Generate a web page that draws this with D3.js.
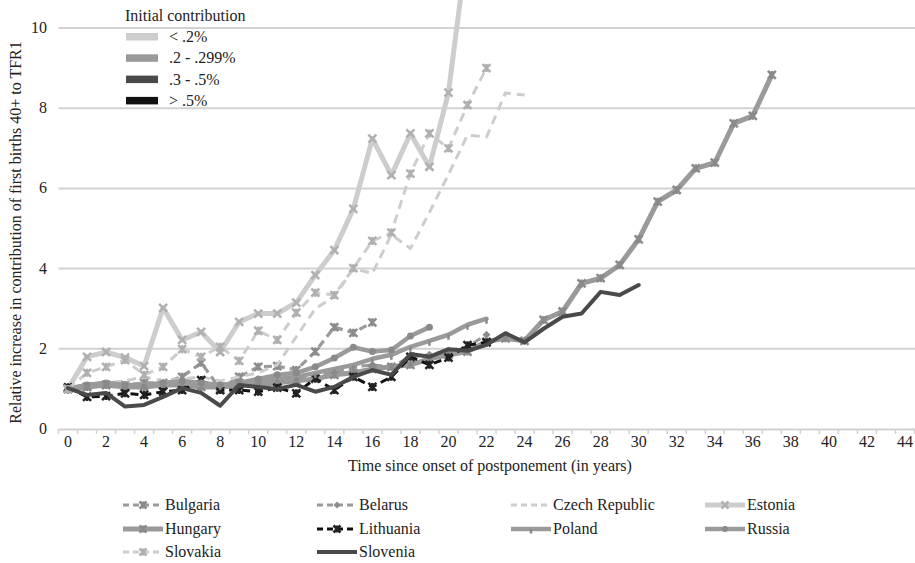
<!DOCTYPE html>
<html>
<head>
<meta charset="utf-8">
<script src="https://cdn.jsdelivr.net/npm/d3@7"></script>
<style>
  html, body { margin: 0; padding: 0; background: #fff; }
  svg text { font-family: "Liberation Serif", "DejaVu Serif", serif; }
</style>
</head>
<body>
<svg id="chart" width="915" height="563"></svg>
<script>
// Years since onset of postponement (category axis)
const years = d3.range(0, 45);
const yTicks = [0, 2, 4, 6, 8, 10];

// Relative increase in contribution of first births 40+ to TFR1, by country
const bulgaria = [1.0, 1.05, 1.1, 1.1, 1.15, 1.15, 1.3, 1.65, 1.0, 1.3, 1.55, 1.57, 1.47, 1.93, 2.54, 2.4, 2.66];
const belarus = [1.0, 1.05, 1.1, 1.0, 1.1, 1.05, 1.15, 1.2, 1.0, 1.1, 1.15, 1.2, 1.25, 1.35, 1.4, 1.55, 1.6, 1.55, 1.8, 1.85, 1.95, 2.05, 2.35];
const czech = [1.0, 1.1, 1.15, 1.2, 1.3, 1.2, 1.25, 1.3, 1.2, 1.3, 1.4, 1.6, 2.3, 3.0, 3.3, 4.0, 3.88, 4.85, 4.5, 5.4, 6.35, 7.33, 7.28, 8.38, 8.33];
const estonia = [1.0, 1.8, 1.92, 1.78, 1.57, 3.02, 2.22, 2.42, 1.92, 2.67, 2.88, 2.88, 3.15, 3.84, 4.46, 5.49, 7.24, 6.33, 7.37, 6.54, 8.39, 12.1];
const hungary = [1.0, 1.05, 1.1, 1.05, 1.05, 1.1, 1.1, 1.05, 1.05, 1.1, 1.1, 1.15, 1.2, 1.25, 1.35, 1.4, 1.5, 1.55, 1.6, 1.75, 1.85, 1.93, 2.18, 2.26, 2.2, 2.72, 2.93, 3.63, 3.76, 4.09, 4.73, 5.67, 5.96, 6.5, 6.64, 7.62, 7.81, 8.83];
const lithuania = [1.04, 0.8, 0.82, 0.89, 0.85, 0.93, 0.97, 1.22, 0.97, 0.97, 0.93, 1.03, 0.89, 1.26, 0.97, 1.3, 1.05, 1.3, 1.8, 1.6, 1.78, 2.09, 2.16];
const poland = [1.0, 1.1, 1.15, 1.1, 1.1, 1.15, 1.15, 1.1, 1.1, 1.15, 1.2, 1.25, 1.3, 1.4, 1.5, 1.6, 1.75, 1.85, 2.05, 2.2, 2.35, 2.6, 2.75];
const russia = [1.0, 1.1, 1.15, 1.1, 1.05, 1.15, 1.2, 1.15, 1.1, 1.15, 1.25, 1.35, 1.4, 1.55, 1.77, 2.04, 1.93, 1.97, 2.32, 2.54];
const slovakia = [1.0, 1.4, 1.55, 1.72, 1.35, 1.55, 1.99, 1.8, 2.05, 1.7, 2.45, 2.22, 2.9, 3.4, 3.34, 4.01, 4.69, 4.9, 6.37, 7.37, 7.0, 8.08, 9.0];
const slovenia = [1.02, 0.85, 0.9, 0.56, 0.6, 0.8, 1.02, 0.9, 0.58, 1.1, 1.05, 1.0, 1.1, 0.93, 1.05, 1.3, 1.47, 1.35, 1.87, 1.8, 1.99, 1.95, 2.1, 2.39, 2.16, 2.5, 2.8, 2.88, 3.42, 3.34, 3.59];

// Initial-contribution groups (shade legend)
const groupLabels = ["< .2%", ".2 - .299%", ".3 - .5%", "> .5%"];
const groupColors = ["#cdcdcd", "#9a9a9a", "#4a4a4a", "#111111"];

const LIGHT = groupColors[0], MID = groupColors[1], DARK = groupColors[2], BLACK = groupColors[3];

const series = [
  { name: "Bulgaria", values: bulgaria, color: MID, mcolor: "#8c8c8c", width: 3.2, dash: "8,5", marker: "star" },
  { name: "Belarus", values: belarus, color: MID, mcolor: "#8c8c8c", width: 3, dash: "8,5", marker: "diamond" },
  { name: "Czech Republic", values: czech, color: LIGHT, mcolor: LIGHT, width: 3, dash: "9,6", marker: null },
  { name: "Estonia", values: estonia, color: LIGHT, mcolor: "#b0b0b0", width: 5, dash: null, marker: "x" },
  { name: "Hungary", values: hungary, color: MID, mcolor: "#8a8a8a", width: 5, dash: null, marker: "star" },
  { name: "Lithuania", values: lithuania, color: BLACK, mcolor: "#222", width: 3, dash: "8,5", marker: "star" },
  { name: "Poland", values: poland, color: MID, mcolor: "#8a8a8a", width: 4.5, dash: null, marker: "tick" },
  { name: "Russia", values: russia, color: MID, mcolor: "#8a8a8a", width: 4.5, dash: null, marker: "circle" },
  { name: "Slovakia", values: slovakia, color: LIGHT, mcolor: "#b0b0b0", width: 3, dash: "9,6", marker: "star" },
  { name: "Slovenia", values: slovenia, color: DARK, mcolor: DARK, width: 4, dash: null, marker: null }
];

const FONT = "Liberation Serif, DejaVu Serif, serif";
const svg = d3.select("#chart");
const W = 915, H = 563;
const plot = { left: 58.5, right: 914.5, top: 28, bottom: 429 };

const x = d3.scaleBand().domain(years).range([plot.left, plot.right]).padding(0);
const xc = d => x(d) + x.bandwidth() / 2;
const y = d3.scaleLinear().domain([0, 10]).range([plot.bottom, plot.top]);

svg.append("defs").append("clipPath").attr("id", "clip")
  .append("rect").attr("x", 0).attr("y", 0).attr("width", W).attr("height", plot.bottom + 2);

// Gridlines
svg.append("g").selectAll("line").data(yTicks.filter(t => t > 0)).join("line")
  .attr("x1", plot.left).attr("x2", W)
  .attr("y1", d => y(d)).attr("y2", d => y(d))
  .attr("stroke", "#d2d2d2").attr("stroke-width", 2);

// Y tick labels
svg.append("g").selectAll("text").data(yTicks).join("text")
  .attr("x", 47).attr("y", d => y(d) + 5)
  .attr("text-anchor", "end").attr("font-size", 16).attr("fill", "#222")
  .attr("font-family", FONT)
  .text(d => d);

// X axis: line with tick marks between categories
const xAxis = d3.axisBottom(x).tickSize(0).tickFormat(d => d % 2 === 0 ? d : "");
const gx = svg.append("g").attr("transform", `translate(0,${plot.bottom})`).call(xAxis)
  .attr("font-family", FONT);
gx.select(".domain").attr("stroke", "#d2d2d2").attr("stroke-width", 2);
gx.selectAll("text").attr("font-size", 16).attr("fill", "#222").attr("dy", 0).attr("y", 18);
svg.append("g").selectAll("line").data(d3.range(0, years.length + 1)).join("line")
  .attr("x1", i => plot.left + i * x.bandwidth()).attr("x2", i => plot.left + i * x.bandwidth())
  .attr("y1", plot.bottom).attr("y2", plot.bottom + 5)
  .attr("stroke", "#d2d2d2").attr("stroke-width", 1.5);

// Axis titles
svg.append("text").attr("x", 490).attr("y", 471).attr("text-anchor", "middle")
  .attr("font-size", 16).attr("fill", "#222").attr("font-family", FONT)
  .text("Time since onset of postponement (in years)");
svg.append("text").attr("transform", `translate(21,${(plot.top + plot.bottom) / 2 + 4}) rotate(-90)`)
  .attr("text-anchor", "middle").attr("font-size", 16).attr("fill", "#222").attr("font-family", FONT)
  .text("Relative increase in contribution of first births 40+ to TFR1");

// Marker drawing
function drawMarker(g, type, cx, cy, color, s = 4) {
  if (!type) return;
  if (type === "circle") {
    g.append("circle").attr("cx", cx).attr("cy", cy).attr("r", s - 0.5).attr("fill", color);
    return;
  }
  let p = "";
  if (type === "x") p = `M${cx - s},${cy - s}L${cx + s},${cy + s}M${cx - s},${cy + s}L${cx + s},${cy - s}`;
  if (type === "star") p = `M${cx - s},${cy - s}L${cx + s},${cy + s}M${cx - s},${cy + s}L${cx + s},${cy - s}M${cx},${cy - s}L${cx},${cy + s}`;
  if (type === "tick") p = `M${cx},${cy}L${cx},${cy + s + 1}`;
  if (type === "diamond") {
    g.append("path").attr("d", `M${cx},${cy - s}L${cx + s},${cy}L${cx},${cy + s}L${cx - s},${cy}Z`).attr("fill", color);
    return;
  }
  g.append("path").attr("d", p).attr("stroke", color).attr("stroke-width", 2.5).attr("fill", "none");
}

// Series lines
const line = d3.line().x((d, i) => xc(i)).y(d => y(d));
const gSeries = svg.append("g").attr("clip-path", "url(#clip)");
series.forEach(s => {
  const g = gSeries.append("g");
  g.append("path").datum(s.values).attr("d", line)
    .attr("fill", "none").attr("stroke", s.color).attr("stroke-width", s.width)
    .attr("stroke-linejoin", "round").attr("stroke-linecap", s.dash ? "butt" : "round")
    .attr("stroke-dasharray", s.dash);
  s.values.forEach((v, i) => drawMarker(g, s.marker, xc(i), y(v), s.mcolor));
});

// Shade legend (initial contribution)
const lg = svg.append("g");
lg.append("text").attr("x", 125).attr("y", 21).attr("font-size", 16).attr("fill", "#222")
  .attr("font-family", FONT).text("Initial contribution");
groupLabels.forEach((lab, i) => {
  const yy = 33 + i * 21.3;
  lg.append("rect").attr("x", 126).attr("y", yy).attr("width", 32).attr("height", 7.5).attr("fill", groupColors[i]);
  lg.append("text").attr("x", 169).attr("y", yy + 9).attr("font-size", 16).attr("fill", "#222")
    .attr("font-family", FONT).text(lab);
});

// Country legend
const cols = [123, 317, 511, 705];
const rows = [505, 529, 552];
const bl = svg.append("g");
series.forEach((s, i) => {
  const cx0 = cols[i % 4], cy0 = rows[Math.floor(i / 4)];
  const g = bl.append("g");
  g.append("line").attr("x1", cx0).attr("x2", cx0 + 40).attr("y1", cy0).attr("y2", cy0)
    .attr("stroke", s.color).attr("stroke-width", s.width)
    .attr("stroke-dasharray", s.dash ? "6,4" : null);
  drawMarker(g, s.marker, cx0 + 20, cy0, s.mcolor, 3.5);
  g.append("text").attr("x", cx0 + 42).attr("y", cy0 + 5).attr("font-size", 16).attr("fill", "#222")
    .attr("font-family", FONT).text(s.name);
});
</script>
</body>
</html>
